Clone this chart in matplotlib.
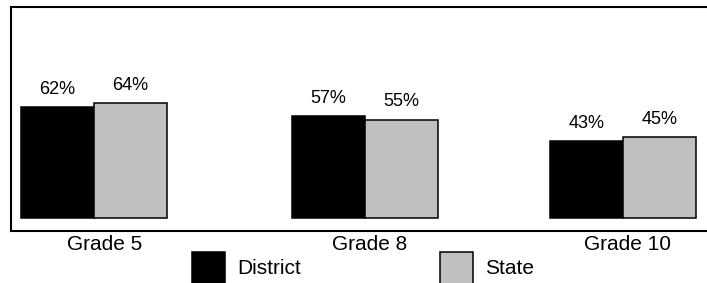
"""Grouped bar chart: District vs State percentages by grade."""

import matplotlib
matplotlib.use("Agg")
import matplotlib.pyplot as plt
from matplotlib.patches import Rectangle

plt.rcParams["font.family"] = ["Liberation Sans", "DejaVu Sans"]

# Data
GRADES = ["Grade 5", "Grade 8", "Grade 10"]
DISTRICT = [62, 57, 43]
STATE = [64, 55, 45]
SERIES = ["District", "State"]

# Layout (pixel units, figure is 707 x 283 at 100 dpi)
W, H, DPI = 707, 283, 100
GROUP_X = [94, 365, 623]      # group centres
LABEL_X = [105, 370, 627]     # category label centres
BAR_W = 73
FRAME_L, FRAME_T, FRAME_B = 11, 7, 231
BASE_Y = 218                  # pixel row of bar baseline
PX_PER_UNIT = 1.79

COLORS = {"District": "black", "State": "#c0c0c0"}

fig = plt.figure(figsize=(W / DPI, H / DPI), dpi=DPI)
ax = fig.add_axes([FRAME_L / W, (H - FRAME_B) / H,
                   (W - FRAME_L) / W, (FRAME_B - FRAME_T) / H])
ax.set_xlim(FRAME_L, W)
ax.set_ylim(-(FRAME_B - BASE_Y) / PX_PER_UNIT, (BASE_Y - FRAME_T) / PX_PER_UNIT)

for name, vals, sign in [("District", DISTRICT, -1), ("State", STATE, 1)]:
    xs = [g + sign * BAR_W / 2 for g in GROUP_X]
    bars = ax.bar(xs, vals, width=BAR_W, color=COLORS[name],
                  edgecolor="black", linewidth=1.1)
    for b, v in zip(bars, vals):
        ax.annotate(f"{v}%", (b.get_x() + b.get_width() / 2, v),
                    xytext=(0, 9.5), textcoords="offset points",
                    ha="center", va="baseline", fontsize=13)

for side in ["left", "top", "bottom"]:
    ax.spines[side].set_linewidth(1.5)
ax.spines["right"].set_visible(False)
ax.set_yticks([])
ax.set_xticks(LABEL_X)
ax.set_xticklabels(GRADES, fontsize=15)
ax.tick_params(axis="x", length=0, pad=3)

# Legend drawn in a full-figure overlay in pixel units
lg = fig.add_axes([0, 0, 1, 1])
lg.set_xlim(0, W)
lg.set_ylim(H, 0)
lg.axis("off")
for name, x0 in zip(SERIES, [192, 440]):
    lg.add_patch(Rectangle((x0, 252), 33, 34, facecolor=COLORS[name],
                           edgecolor="black", linewidth=1.1))
    lg.text(x0 + 45, 269, name, fontsize=15, va="center", ha="left")

fig.savefig("out.png", dpi=DPI)
